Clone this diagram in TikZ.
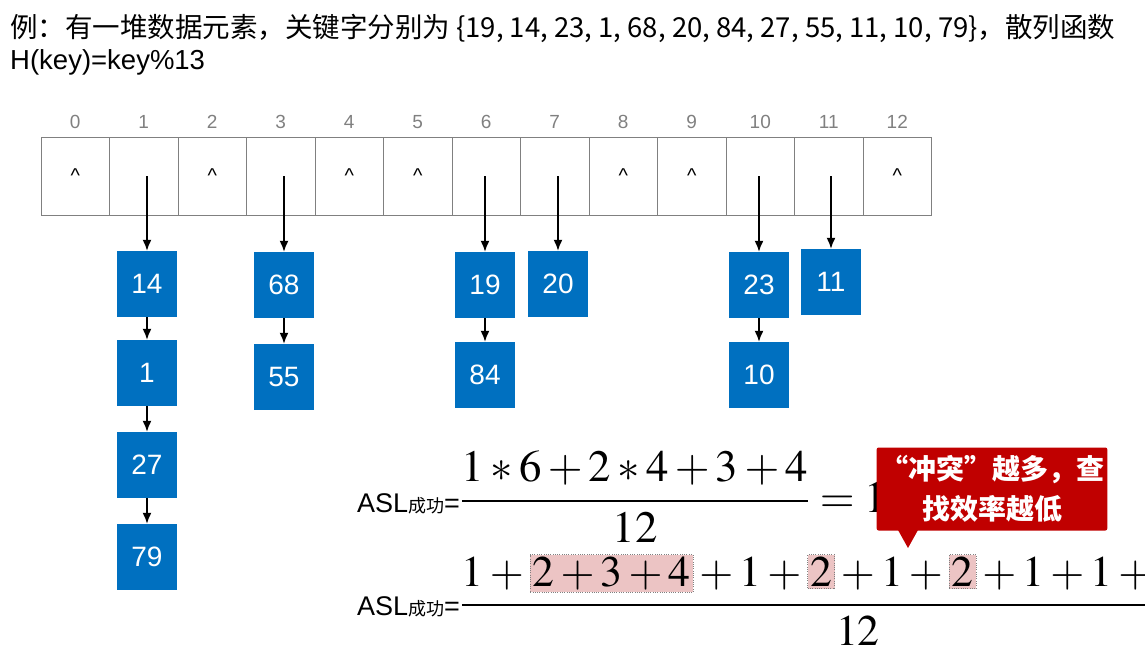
\documentclass[tikz,border=0pt]{standalone}
\usepackage{amsmath}
\usepackage{mathptmx}
\usepackage{fontspec}
\setmainfont{Liberation Sans}
\newfontfamily\cjk{Noto Sans CJK SC}
\usetikzlibrary{positioning,arrows.meta,shapes}
\definecolor{boxblue}{RGB}{0,112,192}
\definecolor{calloutred}{RGB}{192,0,0}
\definecolor{hlpink}{RGB}{236,196,196}
\tikzset{
  cell/.style={draw=gray,minimum width=68.5pt,minimum height=78pt,inner sep=0pt,font=\fontsize{20}{22}\selectfont},
  idx/.style={text=gray,font=\fontsize{19}{21}\selectfont},
  key/.style={fill=boxblue,text=white,minimum width=60pt,minimum height=66pt,inner sep=0pt,font=\fontsize{28}{30}\selectfont},
  link/.style={-{Latex[length=11pt,width=9pt]},line width=1.6pt}
}
\newcommand{\hl}[1]{\tikz[baseline=(h.base)]\node(h)[fill=hlpink,draw=gray,densely dotted,inner sep=1.5pt]{$#1$};}
\begin{document}
\begin{tikzpicture}[x=1pt,y=-1pt]
\useasboundingbox (0,0) rectangle (1145,661);
\node[anchor=west,inner sep=0pt,font=\cjk\fontsize{27.5}{30}\selectfont] (title1) at (10,28) {例：有一堆数据元素，关键字分别为 \{19, 14, 23, 1, 68, 20, 84, 27, 55, 11, 10, 79\}，散列函数};
\node[anchor=west,inner sep=0pt,font=\fontsize{27.5}{30}\selectfont] (title2) at (10,62) {H(key)=key\%13};
% hash table
\foreach \i/\t in {0/{\^{}},1/{},2/{\^{}},3/{},4/{\^{}},5/{\^{}},6/{},7/{},8/{\^{}},9/{\^{}},10/{},11/{},12/{\^{}}}{
  \node[cell] (c\i) at ({75.25+68.5*\i},176) {\t};
  \node[idx] (n\i) at ({75.25+68.5*\i},122) {\i};
}
% chains
\node[key] (k14) at (147,284) {14};
\node[key] (k1) at (147,373) {1};
\node[key] (k27) at (147,465) {27};
\node[key] (k79) at (147,557) {79};
\node[key] (k68) at (284,285) {68};
\node[key] (k55) at (284,377) {55};
\node[key] (k19) at (485,285) {19};
\node[key] (k84) at (485,375) {84};
\node[key] (k20) at (558,284) {20};
\node[key] (k23) at (759,285) {23};
\node[key] (k10) at (759,375) {10};
\node[key] (k11) at (831,282) {11};
\draw[link] (k14.north |- c1.center) -- (k14);
\draw[link] (k68.north |- c3.center) -- (k68);
\draw[link] (k19.north |- c6.center) -- (k19);
\draw[link] (k20.north |- c7.center) -- (k20);
\draw[link] (k23.north |- c10.center) -- (k23);
\draw[link] (k11.north |- c11.center) -- (k11);
\draw[link] (k14) -- (k1);
\draw[link] (k1) -- (k27);
\draw[link] (k27) -- (k79);
\draw[link] (k68) -- (k55);
\draw[link] (k19) -- (k84);
\draw[link] (k23) -- (k10);
% formulas
\node[anchor=west,inner sep=0pt,font=\fontsize{27}{30}\selectfont] (asl1) at (357,497)
  {ASL{\cjk\fontsize{18}{20}\selectfont 成功}=\scalebox{1.66}{$\dfrac{1*6+2*4+3+4}{12}=1.75$}};
\node[anchor=west,inner sep=0pt,font=\fontsize{27}{30}\selectfont] (asl2) at (357,600)
  {ASL{\cjk\fontsize{18}{20}\selectfont 成功}=\scalebox{1.62}{$\dfrac{1+\hl{2+3+4}+1+\hl{2}+1+\hl{2}+1+1+\hl{2}+1}{12}=1.75$}};
% callout
\node[fill=calloutred,text=white,rounded corners=2pt,minimum width=221pt,minimum height=83pt,align=center,
  font=\cjk\bfseries\fontsize{28}{40}\selectfont] (note) at (992,489) {“冲突”越多，查\\找效率越低};
\fill[calloutred] (898,530) -- (908,548) -- (918,530) -- cycle;
\end{tikzpicture}
\end{document}
